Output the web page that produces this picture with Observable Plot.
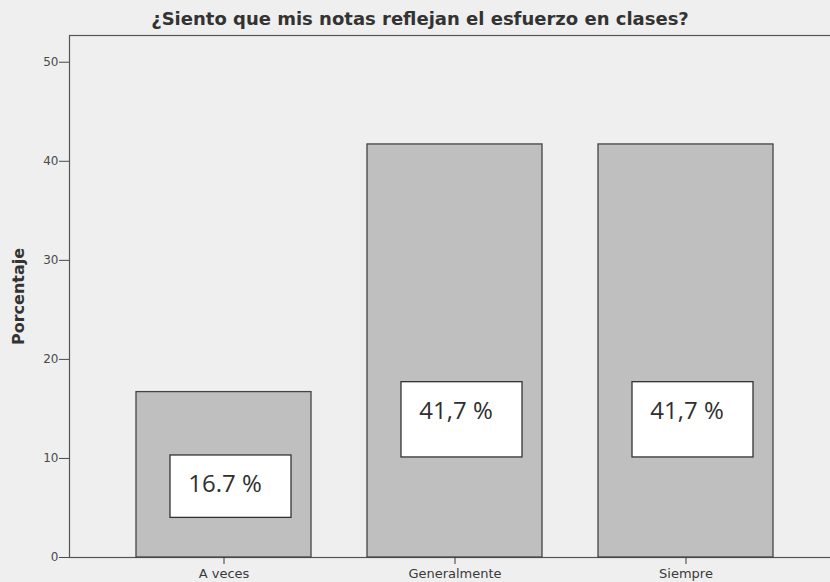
<!DOCTYPE html>
<html>
<head>
<meta charset="utf-8">
<script src="https://cdn.jsdelivr.net/npm/d3@7"></script>
<script src="https://cdn.jsdelivr.net/npm/@observablehq/plot@0.6"></script>
<style>
  html, body { margin: 0; padding: 0; background: #efefef; overflow: hidden; }
  #chart svg { display: block; }
</style>
</head>
<body>
<div id="chart"></div>
<script>
// Data
const categories = ["A veces", "Generalmente", "Siempre"];
const percentages = [16.7, 41.7, 41.7];
const labelTexts = ["16.7 %", "41,7 %", "41,7 %"];
// annotation box extents and label positions in percent units
const boxLow = [4.0, 10.1, 10.1];
const boxHigh = [10.3, 17.7, 17.7];
const labelY = [7.4, 14.8, 14.8];
const yTicks = [0, 10, 20, 30, 40, 50];

const data = categories.map((c, i) => ({
  cat: c, pct: percentages[i], label: labelTexts[i],
  lo: boxLow[i], hi: boxHigh[i], ly: labelY[i]
}));

const chart = Plot.plot({
  width: 830,
  height: 582,
  marginLeft: 69,
  marginRight: -10,
  marginTop: 35,
  marginBottom: 25,
  style: { background: "#efefef", fontFamily: "DejaVu Sans, Verdana, sans-serif" },
  x: { domain: categories, paddingInner: 0.244, paddingOuter: 0.29, label: null },
  y: { domain: [0, 52.7], label: null },
  marks: [
    Plot.frame({ stroke: "#555", strokeWidth: 1.2 }),
    Plot.barY(data, { x: "cat", y: "pct", fill: "#bfbfbf", stroke: "#444", strokeWidth: 1.3 }),
    Plot.rect(data, { x: "cat", y1: "lo", y2: "hi", fill: "white", stroke: "#333", strokeWidth: 1.3, insetLeft: 34, insetRight: 20 }),
    Plot.text(data, { x: "cat", y: "ly", text: "label", dx: 1, fontSize: 24, fill: "#2e2e2e", fontFamily: "Open Sans, sans-serif" }),
    Plot.axisY({ ticks: yTicks, tickSize: 10, tickPadding: 1, fontSize: 12, color: "#4a4a4a", label: null }),
    Plot.axisX({ tickSize: 7, tickPadding: 4, fontSize: 13, color: "#3a3a3a", label: null }),
    Plot.text(["Porcentaje"], { frameAnchor: "left", textAnchor: "middle", dx: -51, rotate: -90, fontSize: 16, fontWeight: "bold", fill: "#333" }),
    Plot.text(["¿Siento que mis notas reflejan el esfuerzo en clases?"], { frameAnchor: "top", dy: -23, dx: -35, fontSize: 18, fontWeight: "bold", fill: "#333" })
  ]
});
document.getElementById("chart").append(chart);
</script>
</body>
</html>
